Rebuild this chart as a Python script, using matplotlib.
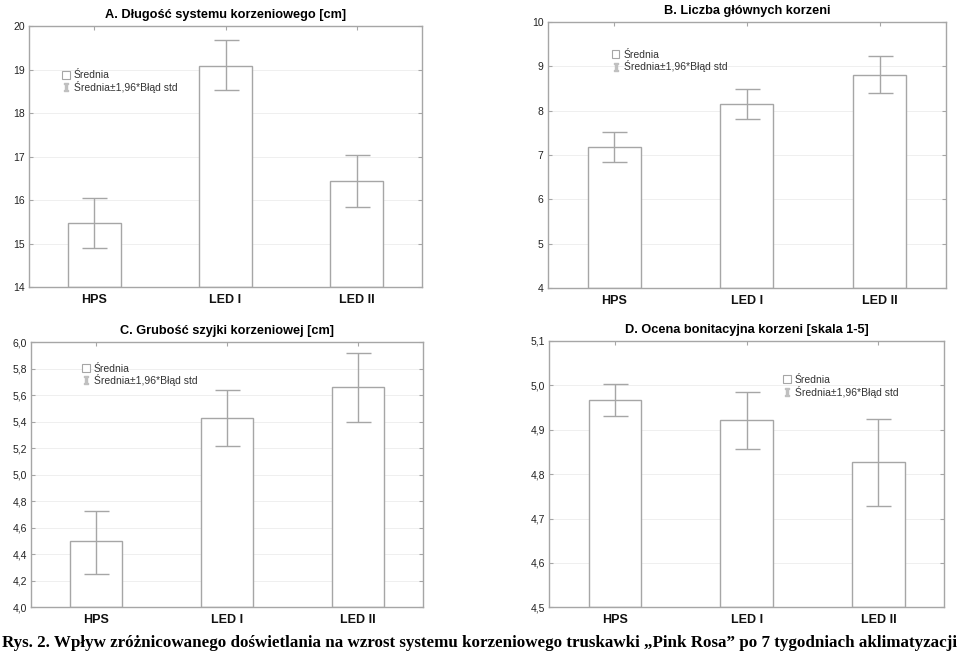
import matplotlib
matplotlib.use("Agg")
import matplotlib.pyplot as plt
from matplotlib.patches import Patch
from matplotlib.lines import Line2D

plt.rcParams['font.family'] = ['Liberation Sans Narrow', 'Liberation Sans', 'DejaVu Sans']

# data
groups = ["HPS", "LED I", "LED II"]

a_mean = [15.47, 19.09, 16.43]
a_low = [14.89, 18.53, 15.83]
a_high = [16.05, 19.67, 17.03]

b_mean = [7.18, 8.15, 8.81]
b_low = [6.85, 7.81, 8.39]
b_high = [7.51, 8.48, 9.23]

c_mean = [4.50, 5.43, 5.66]
c_low = [4.25, 5.22, 5.40]
c_high = [4.73, 5.64, 5.92]

d_mean = [4.966, 4.921, 4.827]
d_low = [4.930, 4.856, 4.729]
d_high = [5.004, 4.985, 4.924]

a_ticks = [14, 15, 16, 17, 18, 19, 20]
a_labels = ["14", "15", "16", "17", "18", "19", "20"]
b_ticks = [4, 5, 6, 7, 8, 9, 10]
b_labels = ["4", "5", "6", "7", "8", "9", "10"]
c_ticks = [4.0, 4.2, 4.4, 4.6, 4.8, 5.0, 5.2, 5.4, 5.6, 5.8, 6.0]
c_labels = ["4,0", "4,2", "4,4", "4,6", "4,8", "5,0", "5,2", "5,4", "5,6", "5,8", "6,0"]
d_ticks = [4.5, 4.6, 4.7, 4.8, 4.9, 5.0, 5.1]
d_labels = ["4,5", "4,6", "4,7", "4,8", "4,9", "5,0", "5,1"]

titles = ["A. Długość systemu korzeniowego [cm]",
          "B. Liczba głównych korzeni",
          "C. Grubość szyjki korzeniowej [cm]",
          "D. Ocena bonitacyjna korzeni [skala 1-5]"]
legend_lab = ["Średnia", "Średnia±1,96*Błąd std"]
caption = "Rys. 2. Wpływ zróżnicowanego doświetlania na wzrost systemu korzeniowego truskawki „Pink Rosa” po 7 tygodniach aklimatyzacji"

grey = "#a6a6a6"

fig = plt.figure(figsize=(9.59, 6.55), dpi=100)

panels = [
    ([0.0302, 0.5618, 0.4100, 0.3985], a_mean, a_low, a_high, a_ticks, a_labels, (0.085, 0.83)),
    ([0.5711, 0.5603, 0.4153, 0.4061], b_mean, b_low, b_high, b_ticks, b_labels, (0.162, 0.895)),
    ([0.0323, 0.0728, 0.4088, 0.4046], c_mean, c_low, c_high, c_ticks, c_labels, (0.131, 0.92)),
    ([0.5725, 0.0728, 0.4122, 0.4066], d_mean, d_low, d_high, d_ticks, d_labels, (0.593, 0.872)),
]

x = list(range(len(groups)))
for i, (rect, mean, low, high, ticks, tlabels, legpos) in enumerate(panels):
    ax = fig.add_axes(rect)
    ax.bar(x, [m - ticks[0] for m in mean], bottom=ticks[0], width=0.4,
           facecolor="white", edgecolor=grey, linewidth=1.0, zorder=2)
    yerr = [[m - l for m, l in zip(mean, low)], [h - m for m, h in zip(mean, high)]]
    ax.errorbar(x, mean, yerr=yerr, fmt="none", ecolor=grey, elinewidth=1.0,
                capsize=9, capthick=1.0, zorder=3)
    ax.set_xlim(-0.5, 2.5)
    ax.set_ylim(ticks[0], ticks[-1])
    ax.set_yticks(ticks)
    ax.set_yticklabels(tlabels, fontsize=7.5, color="#222222")
    ax.set_xticks(x)
    ax.set_xticklabels(groups, fontsize=9, fontweight="bold", color="#111111")
    ax.tick_params(direction="in", length=3, color=grey, top=True, right=True,
                   pad=3)
    ax.tick_params(axis="x", pad=5)
    ax.grid(axis="y", color="#ececec", linewidth=0.6, zorder=0)
    for s in ax.spines.values():
        s.set_color(grey)
        s.set_linewidth(1.0)
    ax.set_title(titles[i], fontsize=9.2, fontweight="bold", pad=6)

    handles = [Patch(facecolor="white", edgecolor=grey, linewidth=0.8),
               Line2D([0], [0], color="#c0c0c0", linestyle="none", marker=r"$\mathtt{I}$",
                      markersize=6)]
    ax.legend(handles, legend_lab, loc="upper left", bbox_to_anchor=legpos,
              frameon=False, fontsize=7.5, handlelength=0.7, handleheight=0.8,
              handletextpad=0.4, labelspacing=0.05, borderpad=0, borderaxespad=0,
              labelcolor="#333333")

fig.text(0.5, 0.018, caption, ha="center", va="center", fontsize=12.25,
         fontweight="bold", family=["Liberation Serif", "DejaVu Serif"])

fig.savefig("out.png", dpi=100, facecolor="white")
